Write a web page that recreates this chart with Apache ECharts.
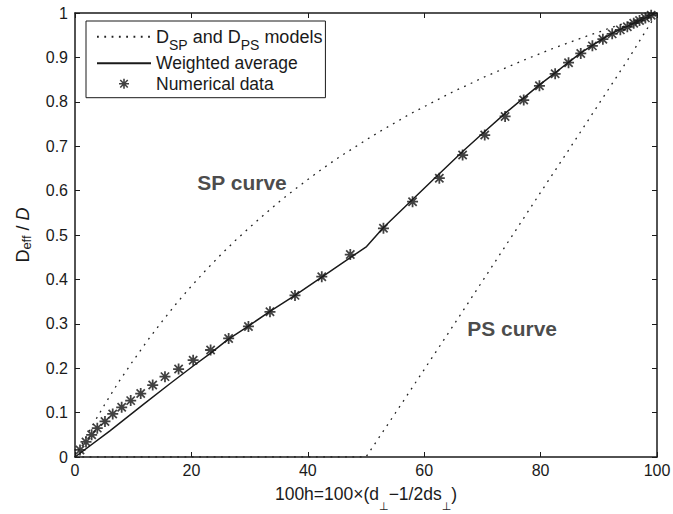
<!DOCTYPE html>
<html>
<head>
<meta charset="utf-8">
<script src="https://cdn.jsdelivr.net/npm/echarts@6/dist/echarts.min.js"></script>
<style>
  html, body { margin: 0; padding: 0; background: #fff; }
  #chart { width: 673px; height: 514px; }
</style>
</head>
<body>
<div id="chart"></div>
<script>
// SP model (dotted, upper curve)
const spX = [0, 2.5, 5, 7.5, 10, 12.5, 15, 17.5, 20, 22.5, 25, 27.5, 30, 32.5, 35, 37.5, 40, 42.5, 45, 47.5,
  50, 52.5, 55, 57.5, 60, 62.5, 65, 67.5, 70, 72.5, 75, 77.5, 80, 82.5, 85, 87.5, 90, 92.5, 95, 97.5, 100];
const spY = [0, 0.060, 0.116, 0.169, 0.217, 0.263, 0.306, 0.347, 0.385, 0.421, 0.455, 0.487, 0.517, 0.546, 0.574, 0.600, 0.625, 0.649, 0.672, 0.693,
  0.714, 0.734, 0.753, 0.772, 0.789, 0.806, 0.823, 0.838, 0.854, 0.868, 0.882, 0.896, 0.909, 0.922, 0.934, 0.946, 0.957, 0.969, 0.979, 0.990, 1];

// PS model (dotted, lower curve)
const psX = [0, 50, 55, 60, 65, 70, 75, 80, 85, 90, 95, 100];
const psY = [0, 0, 0.098, 0.197, 0.296, 0.396, 0.496, 0.596, 0.695, 0.795, 0.895, 1];

// weighted average (solid)
const avgX = [0, 6, 11.7, 16.3, 20.3, 23.2, 26.3, 29.8, 33.5, 37.8, 42.4, 47.3, 50.1, 53, 58, 62.6, 66.6, 70.4,
  73.9, 77.1, 79.8, 82.5, 84.8, 86.9, 88.9, 90.7, 92.3, 93.7, 94.9, 96, 97, 98, 99, 100];
const avgY = [0, 0.059, 0.118, 0.165, 0.205, 0.233, 0.265, 0.295, 0.328, 0.364, 0.405, 0.449, 0.474, 0.517, 0.580, 0.638, 0.688, 0.733,
  0.774, 0.809, 0.838, 0.865, 0.889, 0.910, 0.927, 0.942, 0.954, 0.963, 0.970, 0.977, 0.983, 0.989, 0.995, 1];

// numerical data (stars)
const numX = [0.86, 1.89, 2.86, 3.83, 5.15, 6.48, 8.02, 9.57, 11.29, 13.35, 15.46, 17.8, 20.3, 23.3, 26.4, 29.8, 33.5, 37.8, 42.4, 47.3,
  53, 58, 62.6, 66.6, 70.4, 73.9, 77.1, 79.8, 82.5, 84.8, 86.9, 88.9, 90.7, 92.3, 93.7, 94.9, 96, 97, 98, 99];
const numY = [0.016, 0.034, 0.050, 0.065, 0.080, 0.097, 0.112, 0.127, 0.143, 0.162, 0.181, 0.198, 0.218, 0.241, 0.267, 0.294, 0.327, 0.364, 0.406, 0.456,
  0.515, 0.575, 0.628, 0.680, 0.725, 0.767, 0.804, 0.836, 0.863, 0.888, 0.909, 0.926, 0.941, 0.953, 0.962, 0.969, 0.977, 0.983, 0.989, 0.995];

const xTicks = [0, 20, 40, 60, 80, 100];
const yTicks = [0, 0.1, 0.2, 0.3, 0.4, 0.5, 0.6, 0.7, 0.8, 0.9, 1];

const notes = [
  { text: 'SP curve', x: 28.7, y: 0.619 },
  { text: 'PS curve', x: 75.1, y: 0.29 }
];

const MODELS = 'DSP and DPS models';
const AVG = 'Weighted average';
const NUM = 'Numerical data';

const FONT = '"Liberation Sans", Arial, Helvetica, sans-serif';
const INK = '#1a1a1a';
const DOT = '#222';
// matlab style '*' marker: horizontal, vertical and two diagonal arms
const STAR = 'path://M0 8.4H20V11.6H0Z M8.4 0H11.6V20H8.4Z M3.6 1.4L18.6 16.4L16.4 18.6L1.4 3.6Z M16.4 1.4L18.6 3.6L3.6 18.6L1.4 16.4Z';

const zip = (xs, ys) => xs.map((x, i) => [x, ys[i]]);

const chart = echarts.init(document.getElementById('chart'), null, { renderer: 'svg' });

const axisLine = { show: true, onZero: false, lineStyle: { color: INK, width: 1.5 } };
const tick = { show: true, inside: true, length: 5, lineStyle: { color: INK, width: 1 } };

chart.setOption({
  animation: false,
  backgroundColor: '#fff',
  grid: { left: 75, right: 16, top: 13, bottom: 57, outerBoundsMode: 'none', containLabel: false },
  legend: {
    orient: 'vertical',
    left: 86,
    top: 21,
    padding: [6.7, 3, 5, 10],
    itemGap: 2.5,
    itemWidth: 54,
    itemHeight: 10,
    backgroundColor: '#fff',
    borderColor: INK,
    borderWidth: 1,
    borderRadius: 0,
    selectedMode: false,
    data: [
      { name: MODELS, itemStyle: { opacity: 0 } },
      { name: AVG, itemStyle: { opacity: 0 } },
      NUM
    ],
    formatter: (name) => name === MODELS
      ? '{a|D}{b|SP}{a| and D}{b|PS}{a| models}'
      : '{c|' + name + '}',
    textStyle: {
      fontFamily: FONT,
      color: INK,
      fontSize: 17.5,
      rich: {
        a: { fontFamily: FONT, fontSize: 18, color: INK, lineHeight: 30, verticalAlign: 'middle' },
        b: { fontFamily: FONT, fontSize: 14, color: INK, lineHeight: 12, verticalAlign: 'bottom' },
        c: { fontFamily: FONT, fontSize: 17.5, color: INK, lineHeight: 21 }
      }
    }
  },
  xAxis: [
    {
      type: 'value', position: 'bottom', min: 0, max: 100, interval: 20,
      axisLine, axisTick: tick, splitLine: { show: false },
      axisLabel: { fontFamily: FONT, fontSize: 16, color: INK, margin: 5,
        formatter: (v) => xTicks.includes(v) ? String(v) : '' },
      name: '{n|100h=100×(d}{s|⊥}{n|−1/2ds}{s|⊥}{n|)}',
      nameLocation: 'middle',
      nameGap: 19,
      nameTextStyle: {
        rich: {
          n: { fontFamily: FONT, fontSize: 17.5, color: INK, lineHeight: 36, verticalAlign: 'middle' },
          s: { fontFamily: '"DejaVu Sans", sans-serif', fontSize: 11, color: INK, lineHeight: 2, verticalAlign: 'bottom' }
        }
      }
    },
    {
      type: 'value', position: 'top', min: 0, max: 100, interval: 20,
      axisLine, axisTick: tick, axisLabel: { show: false }, splitLine: { show: false }
    }
  ],
  yAxis: [
    {
      type: 'value', position: 'left', min: 0, max: 1, interval: 0.1,
      axisLine, axisTick: tick, splitLine: { show: false },
      axisLabel: { fontFamily: FONT, fontSize: 16, color: INK, margin: 7,
        formatter: (v) => {
          const t = yTicks.find((k) => Math.abs(k - v) < 1e-6);
          return t === undefined ? '' : String(t);
        } },
      name: '{n|D}{s|eff}{n| / }{i|D}',
      nameLocation: 'middle',
      nameRotate: 90,
      nameGap: 42,
      nameTextStyle: {
        rich: {
          n: { fontFamily: FONT, fontSize: 18, color: INK, lineHeight: 20, verticalAlign: 'middle' },
          s: { fontFamily: FONT, fontSize: 13, color: INK, lineHeight: 2, verticalAlign: 'bottom' },
          i: { fontFamily: FONT, fontSize: 18, fontStyle: 'italic', color: INK, lineHeight: 20, verticalAlign: 'middle' }
        }
      }
    },
    {
      type: 'value', position: 'right', min: 0, max: 1, interval: 0.1,
      axisLine, axisTick: tick, axisLabel: { show: false }, splitLine: { show: false }
    }
  ],
  series: [
    {
      name: MODELS, type: 'line', data: zip(spX, spY),
      symbol: 'none', silent: true,
      lineStyle: { color: DOT, width: 1.3, type: [1.8, 5.5] },
      itemStyle: { color: DOT }
    },
    {
      name: MODELS, type: 'line', data: zip(psX, psY),
      symbol: 'none', silent: true,
      lineStyle: { color: DOT, width: 1.3, type: [1.8, 5.5] },
      itemStyle: { color: DOT }
    },
    {
      name: AVG, type: 'line', data: zip(avgX, avgY),
      symbol: 'none', silent: true,
      lineStyle: { color: INK, width: 1.5, type: 'solid' },
      itemStyle: { color: INK }
    },
    {
      name: NUM, type: 'scatter', data: zip(numX, numY),
      symbol: STAR, symbolSize: 11, symbolKeepAspect: true, silent: true,
      itemStyle: { color: '#111' }
    },
    {
      name: 'notes', type: 'scatter', silent: true,
      data: notes.map((n) => ({ value: [n.x, n.y], label: { formatter: n.text } })),
      symbolSize: 1,
      itemStyle: { color: 'transparent' },
      label: { show: true, position: 'inside', fontFamily: FONT, fontSize: 21, fontWeight: 'bold', color: INK }
    }
  ]
});
</script>
</body>
</html>
